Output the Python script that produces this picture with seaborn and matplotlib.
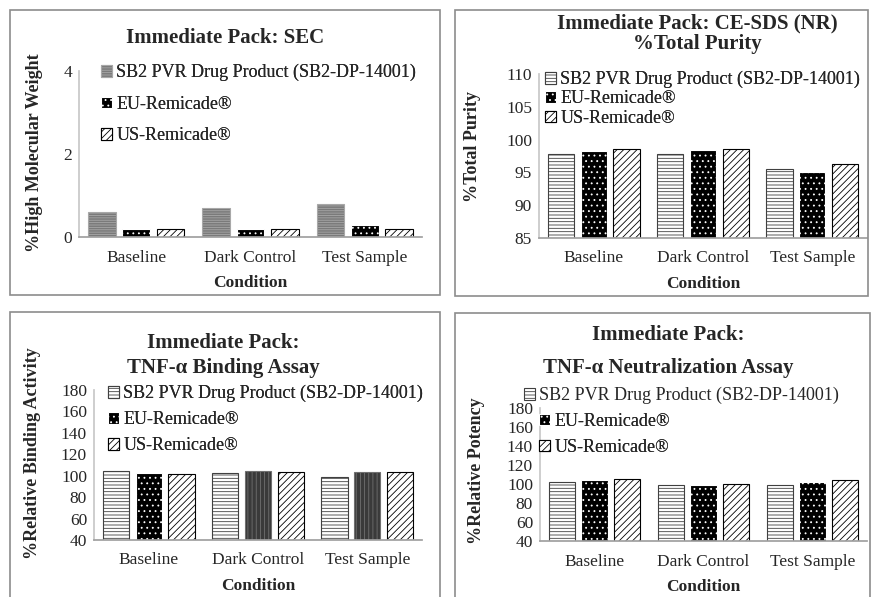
import numpy as np
import pandas as pd
import matplotlib
matplotlib.use("Agg")
import matplotlib.pyplot as plt
import seaborn as sns
from matplotlib.patches import Patch, Rectangle

# -------------------------
# Data
# -------------------------
conditions = ["Baseline", "Dark Control", "Test Sample"]
products = ["SB2 PVR Drug Product (SB2-DP-14001)", "EU-Remicade®", "US-Remicade®"]

sec_sb2 = [0.6, 0.7, 0.8]
sec_eu = [0.2, 0.2, 0.3]
sec_us = [0.2, 0.2, 0.2]

purity_sb2 = [97.8, 97.8, 95.5]
purity_eu = [98.3, 98.4, 95.1]
purity_us = [98.5, 98.5, 96.3]

binding_sb2 = [104.4, 102.2, 98.8]
binding_eu = [102.8, 104.7, 103.8]
binding_us = [101.6, 103.5, 103.2]

potency_sb2 = [102.1, 99.3, 99.3]
potency_eu = [103.8, 98.5, 101.7]
potency_us = [104.9, 100.3, 103.8]

W, H = 874, 597

sns.set_theme(style="white")
plt.rcParams['font.family'] = ['Liberation Serif', 'DejaVu Serif']
plt.rcParams['hatch.linewidth'] = 0.6

fig = plt.figure(figsize=(W / 100, H / 100), dpi=100)


def px_rect(x0, y0, x1, y1):
    # pixel box (top-left origin) -> figure fraction rect
    return [x0 / W, 1 - y1 / H, (x1 - x0) / W, (y1 - y0) / H]


def ftext(x, y, s, **kw):
    fig.text(x / W, 1 - y / H, s, ha='center', va='center', **kw)


# bar styles: (face, edge, hatch)
s_lines = ('white', '#404040', '-----')
s_dots = ('black', 'white', '...')
s_diag = ('white', 'black', '/////')
s_gray = ('#7a7a7a', '#a8a8a8', '-------')
s_vert = ('#3a3a3a', '#707070', '||||')

TITLE = 15


def panel(box, rect, vals, ylim, yticks, ylabel, ypos, styles, leg):
    fig.add_artist(Rectangle((box[0] / W, 1 - box[3] / H), (box[2] - box[0]) / W,
                             (box[3] - box[1]) / H, transform=fig.transFigure,
                             fill=False, edgecolor='#8c8c8c', linewidth=1.2))
    ax = fig.add_axes(px_rect(*rect))
    df = pd.DataFrame({
        "Condition": conditions * 3,
        "Product": np.repeat(products, 3),
        "Value": np.concatenate(vals),
    })
    sns.barplot(data=df, x="Condition", y="Value", hue="Product", hue_order=products,
                errorbar=None, width=0.9, gap=0.2, legend=False, ax=ax)
    for container, st in zip(ax.containers, styles):
        for i, bar in enumerate(container.patches):
            face, edge, hatch = st[i] if isinstance(st, list) else st
            bar.set_facecolor(face)
            bar.set_edgecolor(edge)
            bar.set_hatch(hatch)
            bar.set_linewidth(0.8)
    ax.set_ylim(*ylim)
    ax.set_yticks(yticks)
    ax.set_xlim(-0.5, 2.5)
    sns.despine(ax=ax)
    ax.spines['left'].set_color('#c8c8c8')
    ax.spines['bottom'].set_color('#a0a0a0')
    ax.tick_params(axis='both', length=0, labelsize=12.5)
    ax.tick_params(axis='x', pad=9)
    ax.tick_params(axis='y', pad=5)
    ax.set_xlabel("Condition", fontsize=12.5, fontweight='bold', labelpad=7)
    ax.set_ylabel("")
    ftext(ypos[0], ypos[1], ylabel, rotation=90, fontsize=13, fontweight='bold')

    handles = []
    for st in styles:
        face, edge, hatch = st[0] if isinstance(st, list) else st
        handles.append(Patch(facecolor=face, edgecolor=edge, hatch=hatch, linewidth=0.8))
    for idx, (lx, ly, spacing) in leg:
        lg = ax.legend([handles[i] for i in idx], [products[i] for i in idx],
                       loc='upper left', bbox_to_anchor=(lx / W, 1 - ly / H),
                       bbox_transform=fig.transFigure, frameon=False, fontsize=13,
                       handlelength=0.6, handleheight=0.6, handletextpad=0.25,
                       labelspacing=spacing, borderpad=0, borderaxespad=0)
        ax.add_artist(lg)
    return ax


# -------------------------
# Panel 1: SEC
# -------------------------
panel((10, 10, 440, 295), (79, 71, 422, 237), [sec_sb2, sec_eu, sec_us],
      (0, 4), [0, 2, 4], "%High Molecular Weight", (35, 153),
      [s_gray, s_dots, s_diag],
      [([0, 1, 2], (101, 64, 0.8))])
ftext(225, 38, "Immediate Pack: SEC", fontsize=TITLE, fontweight='bold')

# -------------------------
# Panel 2: CE-SDS
# -------------------------
panel((455, 10, 868, 296), (539, 74, 867, 238), [purity_sb2, purity_eu, purity_us],
      (85, 110), [85, 90, 95, 100, 105, 110], "%Total Purity", (472, 146),
      [s_lines, s_dots, s_diag],
      [([0, 1, 2], (545, 71, 0.12))])
ftext(697, 23, "Immediate Pack: CE-SDS (NR)", fontsize=TITLE, fontweight='bold')
ftext(697, 44, "%Total Purity", fontsize=TITLE, fontweight='bold')

# -------------------------
# Panel 3: Binding
# -------------------------
panel((10, 312, 440, 600), (94, 390, 422, 540), [binding_sb2, binding_eu, binding_us],
      (40, 180), list(range(40, 181, 20)), "%Relative Binding Activity", (33, 453),
      [s_lines, [s_dots, s_vert, s_vert], s_diag],
      [([0, 1, 2], (108, 385, 0.5))])
ftext(223, 343, "Immediate Pack:", fontsize=TITLE, fontweight='bold')
ftext(223, 368, "TNF-α Binding Assay", fontsize=TITLE, fontweight='bold')

# -------------------------
# Panel 4: Neutralization
# -------------------------
panel((455, 313, 870, 600), (540, 408, 867, 541), [potency_sb2, potency_eu, potency_us],
      (40, 180), list(range(40, 181, 20)), "%Relative Potency", (477, 471),
      [s_lines, s_dots, s_diag],
      [([0], (524, 387, 0.5)), ([1, 2], (539, 413, 0.5))])
ftext(668, 335, "Immediate Pack:", fontsize=TITLE, fontweight='bold')
ftext(668, 368, "TNF-α Neutralization Assay", fontsize=TITLE, fontweight='bold')

plt.savefig("out.png", dpi=100)
